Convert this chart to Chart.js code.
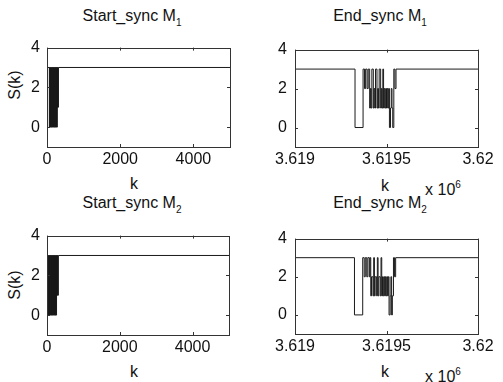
<!DOCTYPE html>
<html><head><meta charset="utf-8">
<script src="https://cdn.jsdelivr.net/npm/chart.js@4.4.1/dist/chart.umd.min.js"></script>
<style>
body{margin:0;background:#fff;width:503px;height:382px;overflow:hidden;position:relative;font-family:"Liberation Sans",Arial,sans-serif;color:#111}
canvas{position:absolute}
.t{position:absolute;font-size:16px;line-height:16px;white-space:nowrap;transform:translate(-50%,-50%)}
.t sub{font-size:10px;vertical-align:-5px;line-height:0}
.t sup{font-size:10px;vertical-align:7px;line-height:0}
.yl{transform:translate(-50%,-50%) rotate(-90deg)}
</style></head><body>
<div class="t" style="left:132px;top:16px">Start_sync M<sub>1</sub></div>
<div class="t" style="left:380px;top:16px">End_sync M<sub>1</sub></div>
<div class="t" style="left:132px;top:203px">Start_sync M<sub>2</sub></div>
<div class="t" style="left:380px;top:203px">End_sync M<sub>2</sub></div>
<div class="t yl" style="left:15px;top:85px">S(k)</div>
<div class="t yl" style="left:15px;top:285px">S(k)</div>
<div class="t" style="left:134px;top:184px">k</div>
<div class="t" style="left:385px;top:186px">k</div>
<div class="t" style="left:134px;top:372px">k</div>
<div class="t" style="left:385px;top:372px">k</div>
<div class="t" style="left:443px;top:190px">x 10<sup>6</sup></div>
<div class="t" style="left:443px;top:377px">x 10<sup>6</sup></div>
<script>
const yTicks = [0, 2, 4];
const yTickLabels = ['0', '2', '4'];
const startXTicks = [0, 2000, 4000];
const startXTickLabels = ['0', '2000', '4000'];
const endXTicks = [3619000, 3619500, 3620000];
const endXTickLabels = ['3.619', '3.6195', '3.62'];

const startK1 = [0,64,72,80,88,96,104,112,120,128,136,144,152,160,168,176,184,192,200,208,216,224,232,240,248,256,264,272,280,288,296,304,312,320,5000];
const startS1 = [3,0,3,0,3,0,3,0,3,0,3,0,3,0,3,0,3,0,3,0,3,0,3,0,3,0,3,0,3,1,3,1,3,3,3];

const startK2 = [0,30,38,46,54,62,70,78,86,94,102,110,118,126,134,142,150,158,166,174,182,190,198,206,214,222,230,238,246,254,262,270,278,286,294,302,310,318,5000];
const startS2 = [3,0,3,0,3,0,3,0,3,0,3,0,3,0,3,0,3,0,3,0,3,0,3,0,3,0,3,0,3,0,3,1,3,1,3,1,3,3,3];

const endK1 = [3619000,3619328,3619372,3619380,3619386,3619394,3619400,3619408,3619412,3619416,3619420,3619428,3619432,3619436,3619440,3619448,3619452,3619456,3619460,3619468,3619472,3619476,3619480,3619484,3619488,3619492,3619496,3619500,3619504,3619508,3619512,3619516,3619522,3619526,3619530,3619534,3619540,3619546,3619552,3620000];
const endS1 = [3,0,3,2,3,2,3,1,2,1,3,1,2,1,3,1,2,1,3,1,2,1,3,1,2,1,2,1,2,1,2,0,1,2,1,0,3,2,3,3];

const endK2 = [3619000,3619325,3619370,3619378,3619384,3619392,3619398,3619406,3619410,3619414,3619418,3619426,3619430,3619434,3619438,3619446,3619450,3619454,3619458,3619466,3619470,3619474,3619478,3619482,3619486,3619490,3619494,3619498,3619502,3619506,3619510,3619514,3619520,3619524,3619528,3619532,3619538,3619544,3619550,3620000];
const endS2 = [3,0,3,2,3,2,3,2,3,1,2,1,3,1,2,1,3,1,2,1,3,1,2,1,2,1,2,1,2,1,2,0,1,2,0,1,3,2,3,3];

const boxPlugin = {
  id: 'box',
  afterDraw(chart) {
    const {ctx, chartArea: a, scales} = chart;
    ctx.save();
    ctx.strokeStyle = '#333';
    ctx.lineWidth = 1;
    ctx.strokeRect(Math.round(a.left) + 0.5, Math.round(a.top) + 0.5, Math.round(a.right - a.left), Math.round(a.bottom - a.top));
    ctx.beginPath();
    scales.x.ticks.forEach(t => {
      const x = Math.round(scales.x.getPixelForValue(t.value)) + 0.5;
      ctx.moveTo(x, a.bottom); ctx.lineTo(x, a.bottom - 3);
      ctx.moveTo(x, a.top); ctx.lineTo(x, a.top + 3);
    });
    scales.y.ticks.forEach(t => {
      const y = Math.round(scales.y.getPixelForValue(t.value)) + 0.5;
      ctx.moveTo(a.left, y); ctx.lineTo(a.left + 3, y);
      ctx.moveTo(a.right, y); ctx.lineTo(a.right - 3, y);
    });
    ctx.stroke();
    ctx.restore();
  }
};

function panel(box, ks, ss, xMin, xMax, xt, xl) {
  const padT = 10, padR = 20, xh = 30, yw = box.yw;
  const W = box.r - box.l + yw + padR, H = box.b - box.t + padT + xh;
  const cv = document.createElement('canvas');
  cv.width = W; cv.height = H;
  cv.style.width = W + 'px'; cv.style.height = H + 'px';
  cv.style.left = (box.l - yw) + 'px'; cv.style.top = (box.t - padT) + 'px';
  document.body.appendChild(cv);
  const font = {size: 16, family: '"Liberation Sans", Arial, sans-serif'};
  new Chart(cv, {
    type: 'line',
    data: {datasets: [{data: ks.map((k, i) => ({x: k, y: ss[i]})), stepped: true, borderColor: '#1a1a1a', borderWidth: 1, pointRadius: 0, fill: false, tension: 0}]},
    options: {
      responsive: false, animation: false, events: [],
      plugins: {legend: {display: false}, tooltip: {enabled: false}},
      layout: {padding: {top: padT, right: padR, left: 0, bottom: 0}},
      scales: {
        x: {type: 'linear', min: xMin, max: xMax,
          afterBuildTicks: s => { s.ticks = xt.map(v => ({value: v})); },
          afterFit: s => { s.height = xh; },
          grid: {display: false, drawTicks: false}, border: {display: false},
          ticks: {padding: 3, maxRotation: 0, autoSkip: false, color: '#111', font, callback: (v, i) => xl[i]}},
        y: {type: 'linear', min: -1, max: 4,
          afterBuildTicks: s => { s.ticks = yTicks.map(v => ({value: v})); },
          afterFit: s => { s.width = yw; },
          grid: {display: false, drawTicks: false}, border: {display: false},
          ticks: {padding: box.yp, color: '#111', font, callback: (v, i) => yTickLabels[i]}}
      }
    },
    plugins: [boxPlugin]
  });
}

panel({l: 47, r: 230, t: 41, b: 147, yw: 47, yp: 7}, startK1, startS1, 0, 5000, startXTicks, startXTickLabels);
panel({l: 295, r: 478, t: 42, b: 147, yw: 47, yp: 8}, endK1, endS1, 3619000, 3620000, endXTicks, endXTickLabels);
panel({l: 47, r: 229, t: 229, b: 335, yw: 47, yp: 7}, startK2, startS2, 0, 5000, startXTicks, startXTickLabels);
panel({l: 295, r: 478, t: 231, b: 334, yw: 47, yp: 8}, endK2, endS2, 3619000, 3620000, endXTicks, endXTickLabels);
</script>
</body></html>
